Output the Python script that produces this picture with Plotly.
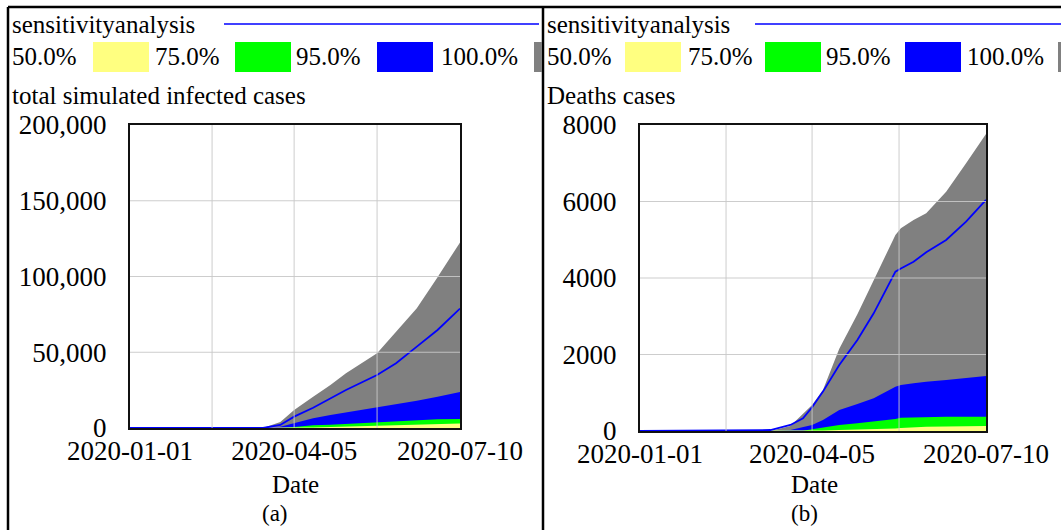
import plotly.graph_objects as go

W, H = 1061, 530

# ---------------- data ----------------
dates_a = ["2020-01-01", "2020-03-18", "2020-03-28", "2020-04-05", "2020-04-16",
           "2020-04-26", "2020-05-05", "2020-05-23", "2020-06-03", "2020-06-15",
           "2020-06-27", "2020-07-10"]
band100_a = [0, 0, 4000, 11900, 20700, 28400, 36100, 49300, 63600, 79000, 99500, 122500]
band95_a = [0, 0, 900, 3100, 6400, 8600, 10300, 13400, 15800, 18000, 20700, 23800]
band75_a = [0, 0, 0, 660, 1800, 2200, 2700, 3500, 4000, 4800, 5700, 5900]
band50_a = [0, 0, 0, 200, 400, 660, 900, 1300, 1600, 2000, 2500, 2900]
line_a = [0, 0, 2000, 7500, 13400, 19600, 25100, 35000, 42700, 53700, 64700, 78800]

dates_b = ["2020-01-01", "2020-03-13", "2020-03-24", "2020-03-31", "2020-04-05",
           "2020-04-11", "2020-04-20", "2020-04-30", "2020-05-09", "2020-05-21",
           "2020-05-24", "2020-05-31", "2020-06-07", "2020-06-18", "2020-06-29",
           "2020-07-10"]
band100_b = [0, 0, 131, 460, 680, 1072, 2150, 3050, 3950, 5125, 5300, 5517, 5690, 6257, 7000, 7765]
band95_b = [0, 0, 26, 96, 157, 288, 549, 706, 854, 1159, 1203, 1246, 1290, 1333, 1394, 1438]
band75_b = [0, 0, 0, 9, 44, 96, 157, 200, 244, 314, 349, 358, 366, 375, 375, 375]
band50_b = [0, 0, 0, 0, 9, 15, 26, 35, 44, 65, 78, 95, 113, 120, 126, 131]
line_b = [0, 26, 157, 330, 620, 1030, 1725, 2380, 3076, 4165, 4250, 4427, 4671, 4994, 5473, 6040]

x_tickvals = ["2020-01-01", "2020-02-17 12:00", "2020-04-05", "2020-05-23", "2020-07-10"]
x_ticktext = ["2020-01-01", "", "2020-04-05", "", "2020-07-10"]
x_range = ["2020-01-01", "2020-07-10"]

y_tickvals_a = [0, 50000, 100000, 150000, 200000]
y_ticktext_a = ["0", "50,000", "100,000", "150,000", "200,000"]
y_tickvals_b = [0, 2000, 4000, 6000, 8000]
y_ticktext_b = ["0", "2000", "4000", "6000", "8000"]

legend_labels = ["50.0%", "75.0%", "95.0%", "100.0%"]
band_colors = ["#FFFF80", "#00FF00", "#0000FF", "#808080"]
line_color = "#0000FF"
titles = ["total simulated infected cases", "Deaths cases"]
captions = ["(a)", "(b)"]

FONT = "Liberation Serif, Times New Roman, serif"


def px(x):
    return x / W


def py(y):
    return 1 - y / H


fig = go.Figure()

panels = [
    dict(dates=dates_a, bands=[band100_a, band95_a, band75_a, band50_a], line=line_a,
         xa="x", ya="y"),
    dict(dates=dates_b, bands=[band100_b, band95_b, band75_b, band50_b], line=line_b,
         xa="x2", ya="y2"),
]

for p in panels:
    for vals, col in zip(p["bands"], band_colors[::-1]):
        fig.add_trace(go.Scatter(x=p["dates"], y=vals, mode="lines", fill="tozeroy",
                                 line=dict(width=0, color=col), fillcolor=col,
                                 xaxis=p["xa"], yaxis=p["ya"], hoverinfo="skip",
                                 showlegend=False))
    fig.add_trace(go.Scatter(x=p["dates"], y=p["line"], mode="lines",
                             line=dict(width=1.8, color=line_color),
                             xaxis=p["xa"], yaxis=p["ya"], showlegend=False))

axis_common = dict(showgrid=False, zeroline=False, showline=True, linecolor="#111111",
                   linewidth=2, mirror=True, ticks="", automargin=False,
                   tickfont=dict(family=FONT, size=27, color="black"))

fig.update_layout(
    width=W, height=H, margin=dict(l=0, r=0, t=0, b=0, pad=0, autoexpand=False),
    paper_bgcolor="white", plot_bgcolor="white", showlegend=False,
    xaxis=dict(domain=[px(130), px(460)], anchor="y", type="date", range=x_range,
               tickvals=x_tickvals, ticktext=x_ticktext, ticklabelstandoff=-2, **axis_common),
    yaxis=dict(domain=[py(428), py(125)], anchor="x", range=[0, 200000],
               tickvals=y_tickvals_a, ticktext=y_ticktext_a, ticklabelstandoff=16, **axis_common),
    xaxis2=dict(domain=[px(640), px(986)], anchor="y2", type="date", range=x_range,
                tickvals=x_tickvals, ticktext=x_ticktext, ticklabelstandoff=-2, **axis_common),
    yaxis2=dict(domain=[py(431), py(125)], anchor="x2", range=[0, 8000],
                tickvals=y_tickvals_b, ticktext=y_ticktext_b, ticklabelstandoff=16, **axis_common),
)

shapes = []
# gridlines drawn above the filled areas
grid_col = "rgba(200,200,200,0.9)"
for xa, ya, ytv in [("x", "y", y_tickvals_a), ("x2", "y2", y_tickvals_b)]:
    for tv in x_tickvals[1:-1]:
        shapes.append(dict(type="line", xref=xa, yref=ya + " domain", x0=tv, x1=tv, y0=0, y1=1,
                           line=dict(color=grid_col, width=1), layer="above"))
    for tv in ytv[1:-1]:
        shapes.append(dict(type="line", xref=xa + " domain", yref=ya, x0=0, x1=1, y0=tv, y1=tv,
                           line=dict(color=grid_col, width=1), layer="above"))

# outer frame
for (x0, y0, x1, y1) in [(8, 7, 1061, 7), (8, 7, 8, 530), (543, 7, 543, 530)]:
    shapes.append(dict(type="line", xref="paper", yref="paper", x0=px(x0), y0=py(y0),
                       x1=px(x1), y1=py(y1), line=dict(color="black", width=2.5)))

annotations = []
legend_layout = [
    dict(x0=12, line=(224, 539), labels=[12, 155, 296, 441], sw=[93, 235, 377, 534], swend=542),
    dict(x0=547, line=(755, 1061), labels=[547, 688, 826, 967], sw=[625, 765, 905, 1058], swend=1061),
]
for k, L in enumerate(legend_layout):
    annotations.append(dict(text="sensitivityanalysis", x=px(L["x0"] - 2), y=py(25), xref="paper",
                            yref="paper", xanchor="left", yanchor="middle", showarrow=False,
                            font=dict(family=FONT, size=25, color="black")))
    shapes.append(dict(type="line", xref="paper", yref="paper", x0=px(L["line"][0]), x1=px(L["line"][1]),
                       y0=py(24), y1=py(24), line=dict(color=line_color, width=1.5)))
    for i, (lab, col) in enumerate(zip(legend_labels, band_colors)):
        annotations.append(dict(text=lab, x=px(L["labels"][i] - 2), y=py(57), xref="paper",
                                yref="paper", xanchor="left", yanchor="middle", showarrow=False,
                                font=dict(family=FONT, size=25, color="black")))
        x1 = L["sw"][i] + 56 if i < 3 else L["swend"]
        shapes.append(dict(type="rect", xref="paper", yref="paper", x0=px(L["sw"][i]), x1=px(x1),
                           y0=py(72), y1=py(42), fillcolor=col, line=dict(width=0)))
    annotations.append(dict(text=titles[k], x=px(L["x0"] - 2), y=py(96), xref="paper", yref="paper",
                            xanchor="left", yanchor="middle", showarrow=False,
                            font=dict(family=FONT, size=25, color="black")))

for cx, cap in zip([295, 814], ["Date", "Date"]):
    annotations.append(dict(text=cap, x=px(cx), y=py(484), xref="paper", yref="paper",
                            xanchor="center", yanchor="middle", showarrow=False,
                            font=dict(family=FONT, size=25, color="black")))
for cx, cap in zip([275, 804], captions):
    annotations.append(dict(text=cap, x=px(cx), y=py(513), xref="paper", yref="paper",
                            xanchor="center", yanchor="middle", showarrow=False,
                            font=dict(family=FONT, size=23, color="black")))

fig.update_layout(shapes=shapes, annotations=annotations)
fig.write_html("out.html", config={"displayModeBar": False},
               post_script="document.body.style.margin='0';document.body.style.overflow='hidden';")
